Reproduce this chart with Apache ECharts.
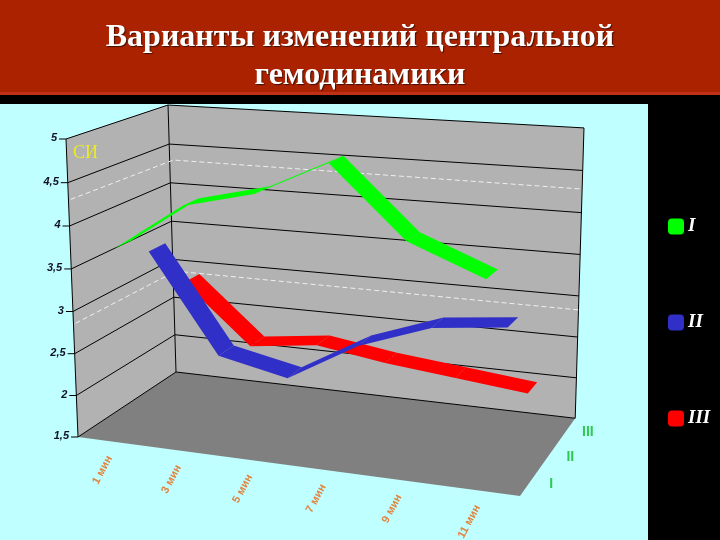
<!DOCTYPE html>
<html>
<head>
<meta charset="utf-8">
<style>html,body{margin:0;padding:0;background:#000}#c{width:720px;height:540px}</style>
<script src="https://cdn.jsdelivr.net/npm/echarts@6/dist/echarts.min.js"></script>
</head>
<body>
<div id="c"></div>
<script>
const titleLines = ['Варианты изменений центральной', 'гемодинамики'];
const yAxisName = 'СИ';
const categories = ['1 мин', '3 мин', '5 мин', '7 мин', '9 мин', '11 мин'];
const yTicks = [1.5, 2, 2.5, 3, 3.5, 4, 4.5, 5];
const yTickLabels = ['1,5', '2', '2,5', '3', '3,5', '4', '4,5', '5'];
const seriesNames = ['I', 'II', 'III'];
const valuesI = [3.72, 4.28, 4.48, 4.88, 4.09, 3.75];
const valuesII = [3.49, 2.30, 2.12, 2.60, 2.90, 2.99];
const valuesIII = [2.88, 2.15, 2.25, 2.12, 2.03, 1.94];
const normalBand = [2.83, 4.28];

const colors = ['#00ff00', '#3030c8', '#ff0000'];
const depthCentre = [0.17, 0.50, 0.86];
const labelDepth = [1/6, 1/2, 5/6];
const ribbonDepth = 0.17;

// Perspective camera of the 3D box; u = along time, v = up the value axis, z = into the depth.
const P0 = [78, 437], PX = [520, 496], PY = [66, 139], PZ = [176, 372];
const WX = 0.9075, WY = 0.97, WZ = 1.12;
function proj(u, v, z) {
  const w = 1 + u * (WX - 1) + v * (WY - 1) + z * (WZ - 1);
  const f = i => (P0[i] + u * (WX * PX[i] - P0[i]) + v * (WY * PY[i] - P0[i]) + z * (WZ * PZ[i] - P0[i])) / w;
  return [f(0) + 5.5 * u * v * z, f(1)];
}
const GRID = { left: 78, top: 139, width: 442, height: 298 };
function norm(api, i, val) {
  const p = api.coord([i, val]);
  return [(p[0] - GRID.left) / GRID.width, (GRID.top + GRID.height - p[1]) / GRID.height];
}
const poly = (pts, fill) => ({ type: 'polygon', shape: { points: pts }, style: { fill: fill, stroke: null } });
const seg = (pts, color, w, dash) => ({
  type: 'polyline', shape: { points: pts },
  style: { fill: null, stroke: color, lineWidth: w, lineDash: dash || null }
});

function renderFrame(params, api) {
  const kids = [];
  // walls and floor
  kids.push(poly([proj(0,0,0), proj(0,1,0), proj(0,1,1), proj(0,0,1)], '#b2b2b2'));
  kids.push(poly([proj(0,0,1), proj(0,1,1), proj(1,1,1), proj(1,0,1)], '#b2b2b2'));
  kids.push(poly([proj(0,0,0), proj(1,0,0), proj(1,0,1), proj(0,0,1)], '#808080'));
  // grid lines and tick labels
  yTicks.forEach((t, k) => {
    const v = norm(api, 0, t)[1];
    kids.push(seg([proj(0,v,0), proj(0,v,1), proj(1,v,1)], '#000', 1));
    const a = proj(0, v, 0);
    kids.push(seg([[a[0] - 7, a[1]], a], '#000', 1));
    kids.push({ type: 'text', x: a[0] - 9, y: a[1] - 1, style: {
      text: yTickLabels[k], fill: '#101028', align: 'right', verticalAlign: 'middle',
      font: 'italic bold 11px "Liberation Sans"' } });
  });
  // wall edges
  kids.push(seg([proj(0,0,0), proj(0,1,0)], '#000', 1));
  kids.push(seg([proj(0,0,1), proj(0,1,1)], '#000', 1));
  kids.push(seg([proj(1,0,1), proj(1,1,1)], '#000', 1));
  // dashed normal-range lines
  normalBand.forEach(val => {
    const v = norm(api, 0, val)[1];
    kids.push(seg([proj(0,v+0.005,0.02), proj(0,v,0.85), proj(0.01,v+0.005,1), proj(1,v,1)], '#f0f0f0', 1, [5, 3]));
  });
  // time labels
  categories.forEach((c, i) => {
    const u = norm(api, i, yTicks[0])[0];
    const a = proj(u, 0, 0);
    kids.push({ type: 'text', x: a[0] - 2, y: a[1] + 15, rotation: 62 * Math.PI / 180, style: {
      text: c, fill: '#e08440', align: 'right', verticalAlign: 'middle',
      font: 'bold 11px "Liberation Sans"' } });
  });
  // depth labels
  seriesNames.forEach((n, k) => {
    const a = proj(1, 0, labelDepth[k]);
    kids.push({ type: 'text', x: a[0] + 21, y: a[1] + 2, style: {
      text: n, fill: '#30c850', align: 'center', verticalAlign: 'middle',
      font: 'bold 14px "Liberation Sans"' } });
  });
  // axis name
  kids.push({ type: 'text', x: 73, y: 153, style: {
    text: yAxisName, fill: '#ecec20', align: 'left', verticalAlign: 'middle',
    font: '18px "Liberation Serif"' } });
  return { type: 'group', children: kids };
}

function ribbon(values, k) {
  return function (params, api) {
    const i = api.value(0);
    if (i >= values.length - 1) return null;
    const a = norm(api, i, values[i]), b = norm(api, i + 1, values[i + 1]);
    const z0 = depthCentre[k] - ribbonDepth / 2, z1 = depthCentre[k] + ribbonDepth / 2;
    return poly([proj(a[0],a[1],z0), proj(b[0],b[1],z0), proj(b[0],b[1],z1), proj(a[0],a[1],z1)], colors[k]);
  };
}
function lineSeries(values, k) {
  return {
    type: 'custom', name: seriesNames[k], z: 5 - k, silent: true, clip: false,
    itemStyle: { color: colors[k] },
    encode: { x: 0, y: 1 },
    renderItem: ribbon(values, k),
    data: values.map((v, i) => [i, v])
  };
}

const chart = echarts.init(document.getElementById('c'), null, { renderer: 'canvas' });
chart.setOption({
  animation: false,
  backgroundColor: '#c0ffff',
  title: {
    text: titleLines.join('\n'), left: 'center', top: 14, z: 10,
    textStyle: { color: '#fff', fontFamily: 'Liberation Serif', fontWeight: 'bold', fontSize: 32, lineHeight: 38,
      textShadowColor: '#401000', textShadowBlur: 1, textShadowOffsetX: 1, textShadowOffsetY: 1 }
  },
  legend: {
    orient: 'vertical', left: 663, top: 212, itemWidth: 16, itemHeight: 16, itemGap: 77, icon: 'roundRect',
    selectedMode: false, data: seriesNames, itemStyle: { borderWidth: 0 },
    textStyle: { color: '#fff', fontFamily: 'Liberation Serif', fontStyle: 'italic', fontWeight: 'bold', fontSize: 19, padding: [0, 0, 0, -1] }
  },
  graphic: [
    { type: 'rect', z: -1, shape: { x: 648, y: 95, width: 72, height: 445 }, style: { fill: '#000' } },
    { type: 'rect', z: -1, shape: { x: 0, y: 95, width: 720, height: 9 }, style: { fill: '#000' } },
    { type: 'rect', z: -1, shape: { x: 0, y: 0, width: 720, height: 92 }, style: { fill: '#aa2200' } },
    { type: 'rect', z: -1, shape: { x: 0, y: 92, width: 720, height: 3 }, style: { fill: '#c03018' } }
  ],
  grid: GRID,
  xAxis: { type: 'category', data: categories, show: false },
  yAxis: { type: 'value', min: 1.5, max: 5, interval: 0.5, show: false },
  series: [
    lineSeries(valuesI, 0),
    lineSeries(valuesII, 1),
    lineSeries(valuesIII, 2),
    { type: 'custom', name: 'frame', z: 1, silent: true, clip: false, renderItem: renderFrame, data: [[0, 1.5]], encode: { x: 0, y: 1 } }
  ]
});
</script>
</body>
</html>
